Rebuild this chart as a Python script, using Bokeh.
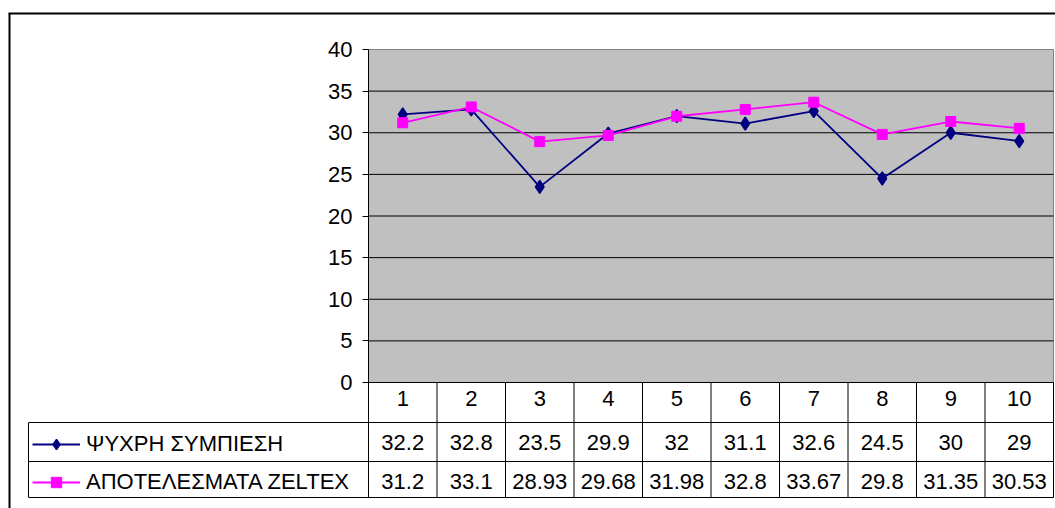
from bokeh.plotting import figure
from bokeh.models import Range1d, LinearAxis, FixedTicker, Legend, LegendItem
from bokeh.core.properties import value
from bokeh.embed import file_html
from bokeh.resources import INLINE

# ---------------- data ----------------
categories = [1, 2, 3, 4, 5, 6, 7, 8, 9, 10]
cold_pressing = [32.2, 32.8, 23.5, 29.9, 32, 31.1, 32.6, 24.5, 30, 29]
zeltex_results = [31.2, 33.1, 28.93, 29.68, 31.98, 32.8, 33.67, 29.8, 31.35, 30.53]
series_names = ["ΨΥΧΡΗ ΣΥΜΠΙΕΣΗ", "ΑΠΟΤΕΛΕΣΜΑΤΑ ZELTEX"]
y_ticks = [0, 5, 10, 15, 20, 25, 30, 35, 40]

# ---------------- layout (page pixels) ----------------
FONT = "Liberation Sans"
FS = "22px"
W, H = 1055, 508
ORIGIN_X, ORIGIN_Y = 0, 0
PLOT_L, PLOT_T, PLOT_B = 368, 49, 382
COL_W = 68.5
Y_SCALE = (PLOT_B - PLOT_T) / (y_ticks[-1] - y_ticks[0])
LEG_L = 28
ROW_LINES = [422, 461, 497]
ROW_TEXT = [441.5, 481]

x_lo = categories[0] - 0.5
x_hi = categories[-1] + 0.5


def dx(px):
    return x_lo + (px - PLOT_L) / COL_W


def dy(py):
    return y_ticks[0] + (PLOT_B - py) / Y_SCALE


p = figure(width=W, height=H,
           x_range=Range1d(dx(ORIGIN_X), dx(ORIGIN_X + W)),
           y_range=Range1d(dy(ORIGIN_Y + H), dy(ORIGIN_Y)),
           x_axis_type=None, y_axis_type=None,
           toolbar_location=None, output_backend="svg",
           min_border=0, outline_line_color=None,
           background_fill_color="white", border_fill_color="white",
           title_location=None)

# outer chart frame (left + top edges)
p.segment(x0=[dx(9), dx(8)], y0=[dy(13), dy(13)],
          x1=[dx(9), dx(ORIGIN_X + W)], y1=[dy(ORIGIN_Y + H), dy(13)],
          line_color="black", line_width=2)

# plot area
p.quad(left=x_lo, right=x_hi, bottom=y_ticks[0], top=y_ticks[-1],
       fill_color="#C0C0C0", line_color="#808080", line_width=1)

grid_vals = y_ticks[1:-1]
p.segment(x0=[x_lo] * len(grid_vals), x1=[x_hi] * len(grid_vals),
          y0=grid_vals, y1=grid_vals, line_color="black", line_width=1)

# series
l1 = p.line(categories, cold_pressing, line_color="#000080", line_width=1.8)
s1 = p.scatter(categories, cold_pressing, marker="diamond", size=13,
               fill_color="#000080", line_color="#000080", line_width=1.5)
l2 = p.line(categories, zeltex_results, line_color="#FF00FF", line_width=1.8)
s2 = p.scatter(categories, zeltex_results, marker="square", size=10,
               fill_color="#FF00FF", line_color="#FF00FF")

# y axis
yax = LinearAxis(fixed_location=x_lo, bounds=(y_ticks[0], y_ticks[-1]),
                 ticker=FixedTicker(ticks=y_ticks))
yax.major_tick_out = 6
yax.major_tick_in = 0
yax.minor_tick_out = 0
yax.minor_tick_in = 0
yax.axis_line_color = "black"
yax.major_tick_line_color = "black"
yax.major_label_text_font = FONT
yax.major_label_text_font_size = FS
yax.major_label_text_color = "black"
yax.major_label_standoff = 10
p.add_layout(yax, "left")

# category header row of the data table
xax = LinearAxis(fixed_location=y_ticks[0], bounds=(x_lo, x_hi),
                 ticker=FixedTicker(ticks=categories))
xax.major_tick_out = 0
xax.major_tick_in = 0
xax.minor_tick_out = 0
xax.minor_tick_in = 0
xax.axis_line_color = "black"
xax.major_label_text_font = FONT
xax.major_label_text_font_size = FS
xax.major_label_text_color = "black"
xax.major_label_standoff = 8
p.add_layout(xax, "below")

# data table grid
bounds_x = [c - 0.5 for c in categories] + [x_hi]
p.segment(x0=bounds_x, x1=bounds_x, y0=[y_ticks[0]] * len(bounds_x),
          y1=[dy(ROW_LINES[-1])] * len(bounds_x), line_color="black", line_width=1)
p.segment(x0=[dx(LEG_L)], x1=[dx(LEG_L)], y0=[dy(ROW_LINES[0])],
          y1=[dy(ROW_LINES[-1])], line_color="black", line_width=1)
p.segment(x0=[dx(LEG_L)] * len(ROW_LINES), x1=[x_hi] * len(ROW_LINES),
          y0=[dy(r) for r in ROW_LINES], y1=[dy(r) for r in ROW_LINES],
          line_color="black", line_width=1)

# data table values
for vals, ty in zip([cold_pressing, zeltex_results], ROW_TEXT):
    p.text(x=categories, y=[dy(ty)] * len(categories),
           text=[f"{v:g}" for v in vals],
           text_align="center", text_baseline="middle",
           text_font=value(FONT), text_font_size=FS, text_color="black")

# legend keys inside the table
legend = Legend(items=[LegendItem(label=series_names[0], renderers=[l1, s1]),
                       LegendItem(label=series_names[1], renderers=[l2, s2])],
                location=(32, 13), orientation="vertical",
                glyph_width=48, glyph_height=26, label_height=26,
                spacing=12, label_standoff=6, padding=0, margin=0,
                border_line_color=None, background_fill_alpha=0,
                label_text_font=FONT, label_text_font_size=FS,
                label_text_color="black")
p.add_layout(legend)

with open("out.html", "w", encoding="utf-8") as f:
    f.write(file_html(p, INLINE))
